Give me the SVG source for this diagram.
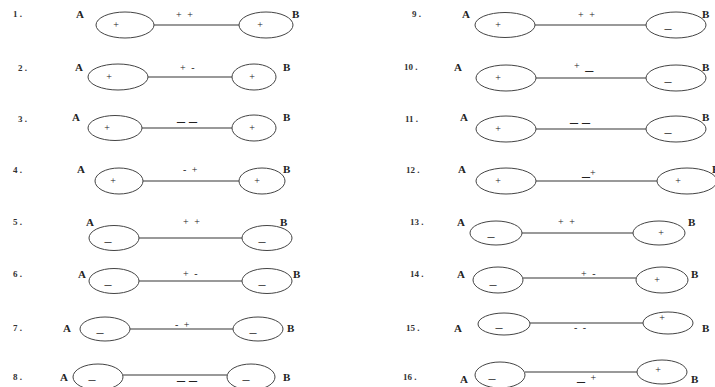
<svg xmlns="http://www.w3.org/2000/svg" width="715" height="387" viewBox="0 0 715 387">
<style>
text{font-family:"Liberation Serif","Times New Roman",serif;fill:#222}
.n{font-size:9px;font-weight:bold;fill:#333}
.ab{font-size:11px;font-weight:bold}
.s{font-size:10px;text-anchor:middle}
.d{font-size:14px;text-anchor:middle}
.l{font-size:10px;word-spacing:3px}
.u{font-size:16px}
ellipse{fill:#fff;stroke:#444;stroke-width:1}
line{stroke:#777;stroke-width:1.5}
</style>
<rect width="715" height="387" fill="#fff"/>
<g id="connectors">
<line x1="154" y1="25" x2="239" y2="25"/>
<line x1="148" y1="77" x2="232" y2="77"/>
<line x1="142" y1="128" x2="232" y2="128"/>
<line x1="143" y1="181" x2="239" y2="181"/>
<line x1="139" y1="238" x2="242" y2="238"/>
<line x1="139" y1="281" x2="242" y2="281"/>
<line x1="130" y1="329" x2="233" y2="329"/>
<line x1="123" y1="375" x2="227" y2="375"/>
<line x1="535" y1="25" x2="646" y2="25"/>
<line x1="536" y1="78" x2="646" y2="78"/>
<line x1="536" y1="129" x2="646" y2="129"/>
<line x1="536" y1="181" x2="657" y2="181"/>
<line x1="522" y1="233" x2="633" y2="233"/>
<line x1="523" y1="278" x2="636" y2="278"/>
<line x1="530" y1="323" x2="643" y2="323"/>
<line x1="525" y1="372" x2="637" y2="372"/>
<text class="l" x="176" y="18">+ +</text>
<text class="l" x="180" y="71">+ -</text>
<text class="u" x="177" y="120.5">_ _</text>
<text class="l" x="183" y="173">- +</text>
<text class="l" x="183" y="225">+ +</text>
<text class="l" x="183" y="277">+ -</text>
<text class="l" x="175" y="328">- +</text>
<text class="u" x="177" y="380">_ _</text>
<text class="l" x="578" y="18">+ +</text>
<text class="l" x="574" y="69">+ <tspan class="u" dy="1">_</tspan></text>
<text class="u" x="570" y="121.5">_ _</text>
<text class="l" x="582" y="176"><tspan class="u">_</tspan>+</text>
<text class="l" x="558" y="225">+ +</text>
<text class="l" x="581" y="277">+ -</text>
<text class="l" x="574" y="331">- -</text>
<text class="l" x="577" y="381"><tspan class="u">_</tspan> +</text>
</g>
<g id="numbers">
<text class="n" x="13" y="17">1 .</text>
<text class="n" x="18" y="71">2 .</text>
<text class="n" x="18" y="122">3 .</text>
<text class="n" x="13" y="173">4 .</text>
<text class="n" x="13" y="225">5 .</text>
<text class="n" x="13" y="277">6 .</text>
<text class="n" x="13" y="331">7 .</text>
<text class="n" x="13" y="380">8 .</text>
<text class="n" x="412" y="17">9 .</text>
<text class="n" x="404" y="70">10 .</text>
<text class="n" x="405" y="122">11 .</text>
<text class="n" x="406" y="173">12 .</text>
<text class="n" x="410" y="225">13 .</text>
<text class="n" x="410" y="277">14 .</text>
<text class="n" x="406" y="331">15 .</text>
<text class="n" x="403" y="380">16 .</text>
</g>
<g id="n1A"><text class="ab" x="76" y="18">A</text><ellipse cx="125" cy="25" rx="29" ry="13"/><text class="s" x="116" y="28">+</text></g>
<g id="n1B"><ellipse cx="266" cy="25" rx="27" ry="13"/><text class="s" x="260" y="28">+</text><text class="ab" x="292" y="18">B</text></g>
<g id="n2A"><text class="ab" x="75" y="71">A</text><ellipse cx="118" cy="77" rx="30" ry="13"/><text class="s" x="109" y="80">+</text></g>
<g id="n2B"><ellipse cx="254" cy="77" rx="22" ry="13"/><text class="s" x="252" y="80">+</text><text class="ab" x="283" y="71">B</text></g>
<g id="n3A"><text class="ab" x="72" y="121">A</text><ellipse cx="115" cy="128" rx="27" ry="12.5"/><text class="s" x="107" y="131">+</text></g>
<g id="n3B"><ellipse cx="254" cy="128" rx="22" ry="13"/><text class="s" x="252" y="131">+</text><text class="ab" x="283" y="121">B</text></g>
<g id="n4A"><text class="ab" x="77" y="173">A</text><ellipse cx="119" cy="181" rx="24" ry="13"/><text class="s" x="113" y="184">+</text></g>
<g id="n4B"><ellipse cx="262" cy="181" rx="23" ry="13"/><text class="s" x="257" y="184">+</text><text class="ab" x="283" y="173">B</text></g>
<g id="n5A"><text class="ab" x="86" y="226">A</text><ellipse cx="114" cy="238" rx="25" ry="12.5"/><text class="d" x="108" y="246">–</text></g>
<g id="n5B"><ellipse cx="267" cy="238" rx="25" ry="12.5"/><text class="d" x="262" y="246">–</text><text class="ab" x="280" y="226">B</text></g>
<g id="n6A"><text class="ab" x="78" y="278">A</text><ellipse cx="114" cy="281" rx="25" ry="12.5"/><text class="d" x="108" y="289">–</text></g>
<g id="n6B"><ellipse cx="267" cy="281" rx="25" ry="12.5"/><text class="d" x="262" y="289">–</text><text class="ab" x="293" y="278">B</text></g>
<g id="n7A"><text class="ab" x="63" y="332">A</text><ellipse cx="105" cy="329" rx="25" ry="12"/><text class="d" x="100" y="337">–</text></g>
<g id="n7B"><ellipse cx="258" cy="329" rx="25" ry="12"/><text class="d" x="253" y="337">–</text><text class="ab" x="287" y="332">B</text></g>
<g id="n8A"><text class="ab" x="60" y="381">A</text><ellipse cx="98" cy="377" rx="25" ry="13"/><text class="d" x="92" y="384">–</text></g>
<g id="n8B"><ellipse cx="251" cy="377" rx="24" ry="13"/><text class="d" x="246" y="384">–</text><text class="ab" x="283" y="381">B</text></g>
<g id="n9A"><text class="ab" x="462" y="18">A</text><ellipse cx="505" cy="25" rx="30" ry="12.5"/><text class="s" x="498" y="28">+</text></g>
<g id="n9B"><ellipse cx="676" cy="25" rx="30" ry="13"/><text class="d" x="668" y="33">–</text><text class="ab" x="702" y="18">B</text></g>
<g id="n10A"><text class="ab" x="454" y="71">A</text><ellipse cx="506" cy="78" rx="30" ry="13"/><text class="s" x="498" y="81">+</text></g>
<g id="n10B"><ellipse cx="676" cy="78" rx="30" ry="13"/><text class="d" x="668" y="86">–</text><text class="ab" x="702" y="71">B</text></g>
<g id="n11A"><text class="ab" x="460" y="121">A</text><ellipse cx="506" cy="129" rx="30" ry="13"/><text class="s" x="498" y="132">+</text></g>
<g id="n11B"><ellipse cx="676" cy="129" rx="30" ry="13"/><text class="d" x="668" y="137">–</text><text class="ab" x="702" y="121">B</text></g>
<g id="n12A"><text class="ab" x="458" y="173">A</text><ellipse cx="506" cy="181" rx="30" ry="13"/><text class="s" x="498" y="184">+</text></g>
<g id="n12B"><ellipse cx="687" cy="181" rx="30" ry="13"/><text class="s" x="678" y="184">+</text><text class="ab" x="712" y="173">B</text></g>
<g id="n13A"><text class="ab" x="457" y="226">A</text><ellipse cx="496" cy="233" rx="26" ry="12"/><text class="d" x="491" y="241">–</text></g>
<g id="n13B"><ellipse cx="659" cy="233" rx="26" ry="12"/><text class="s" x="661" y="236">+</text><text class="ab" x="688" y="226">B</text></g>
<g id="n14A"><text class="ab" x="457" y="278">A</text><ellipse cx="498" cy="280" rx="25" ry="13"/><text class="d" x="493" y="289">–</text></g>
<g id="n14B"><ellipse cx="662" cy="280" rx="26" ry="13"/><text class="s" x="657" y="283">+</text><text class="ab" x="691" y="278">B</text></g>
<g id="n15A"><text class="ab" x="454" y="332">A</text><ellipse cx="504" cy="324" rx="26" ry="11"/><text class="d" x="499" y="332">–</text></g>
<g id="n15B"><ellipse cx="668" cy="323" rx="25" ry="11"/><text class="s" x="662" y="321">+</text><text class="ab" x="702" y="332">B</text></g>
<g id="n16A"><text class="ab" x="460" y="383">A</text><ellipse cx="500" cy="375" rx="25" ry="13"/><text class="d" x="492" y="383">–</text></g>
<g id="n16B"><ellipse cx="662" cy="372" rx="25" ry="12"/><text class="s" x="658" y="373">+</text><text class="ab" x="691" y="383">B</text></g>
</svg>
